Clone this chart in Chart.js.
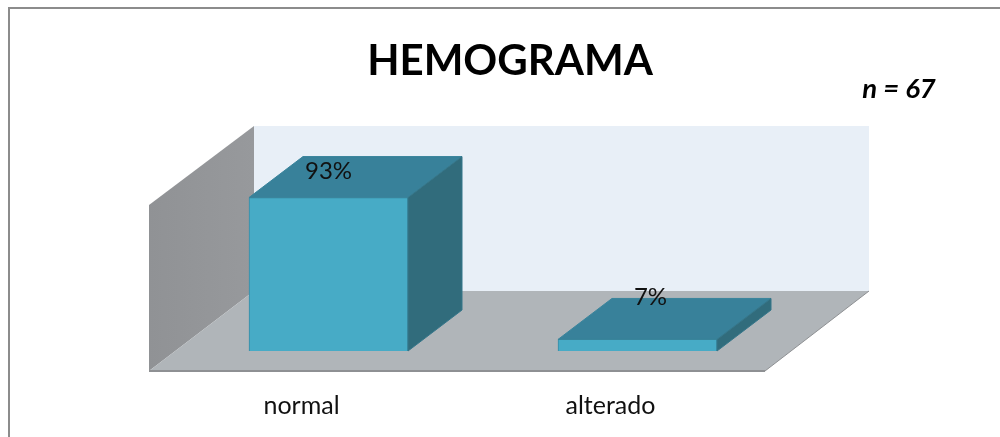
<!DOCTYPE html>
<html>
<head>
<meta charset="utf-8">
<title>Hemograma</title>
<script src="https://cdn.jsdelivr.net/npm/chart.js@4"></script>
<style>
  html, body { margin: 0; background: #fff; overflow: hidden; }
  canvas { display: block; }
</style>
</head>
<body>
<canvas id="chart" width="1000" height="437"></canvas>
<script>
const categories = ['normal', 'alterado'];
const values = [93, 7];
const chartTitle = 'HEMOGRAMA';
const sampleNote = 'n = 67';

const FONT = 'Lato, "Open Sans", sans-serif';

// nudges for the % labels, they sit by hand in the original
const labelNudge = [[0, -26], [13, -42]];

const polygon = (ctx, pts, fill, stroke) => {
  ctx.beginPath();
  pts.forEach((p, i) => (i ? ctx.lineTo(p[0], p[1]) : ctx.moveTo(p[0], p[1])));
  ctx.closePath();
  ctx.fillStyle = fill;
  ctx.fill();
  if (stroke) {
    ctx.strokeStyle = stroke;
    ctx.lineWidth = 1;
    ctx.stroke();
  }
};

const fakeBox = {
  id: 'fakeBox',
  afterLayout(chart) {
    // centre of the title is right of the plot centre
    chart.titleBlock.left += 27;
    chart.titleBlock.right += 27;
  },
  beforeDraw(chart) {
    const ctx = chart.ctx;
    ctx.save();
    ctx.strokeStyle = '#8c8c8c';
    ctx.lineWidth = 2;
    ctx.beginPath();
    ctx.moveTo(9, 437);
    ctx.lineTo(9, 8);
    ctx.lineTo(1000, 8);
    ctx.stroke();
    ctx.restore();
  },
  beforeDatasetsDraw(chart) {
    const ctx = chart.ctx;
    const {left, right} = chart.chartArea;
    const bottom = chart.scales.y.getPixelForValue(0);
    const top = chart.scales.y.getPixelForValue(100);
    const fl = left - 25, fr = right - 27, fy = bottom + 20;
    const bl = left + 80, br = right + 77, by = bottom - 60, bt = top - 60;
    ctx.save();
    polygon(ctx, [[bl, bt], [br, bt], [br, by], [bl, by]], '#e8eff7');
    const wall = ctx.createLinearGradient(fl, 0, bl, 0);
    wall.addColorStop(0, '#909295');
    wall.addColorStop(1, '#97999c');
    polygon(ctx, [[fl, bt + 79], [bl, bt], [bl, by], [fl, fy]], wall);
    polygon(ctx, [[fl, fy], [bl, by], [br, by], [fr, fy]], '#b0b5b9');
    ctx.strokeStyle = '#8e9093';
    ctx.lineWidth = 1;
    ctx.beginPath();
    ctx.moveTo(br, by);
    ctx.lineTo(fr, fy);
    ctx.stroke();
    ctx.lineWidth = 2;
    ctx.beginPath();
    ctx.moveTo(fl, fy);
    ctx.lineTo(fr, fy);
    ctx.stroke();
    ctx.restore();
  },
  afterDatasetsDraw(chart) {
    const ctx = chart.ctx;
    const dx = 54, dy = -41;
    ctx.save();
    chart.getDatasetMeta(0).data.forEach((bar, i) => {
      const l = bar.x - bar.width / 2, r = bar.x + bar.width / 2;
      polygon(ctx, [[l, bar.y], [l + dx, bar.y + dy], [r + dx, bar.y + dy], [r, bar.y]], '#38819a', '#39849c');
      polygon(ctx, [[r, bar.y], [r + dx, bar.y + dy], [r + dx, bar.base + dy], [r, bar.base]], '#316c7c', '#35768a');
    });
    ctx.fillStyle = '#111';
    ctx.textAlign = 'center';
    ctx.textBaseline = 'middle';
    ctx.font = '24px ' + FONT;
    chart.getDatasetMeta(0).data.forEach((bar, i) => {
      ctx.fillText(values[i] + '%', bar.x + labelNudge[i][0], bar.y + labelNudge[i][1]);
    });
    ctx.fillStyle = '#000';
    ctx.font = 'italic bold 27.5px ' + FONT;
    ctx.fillText(sampleNote, 899, 89);
    ctx.restore();
  }
};

new Chart(document.getElementById('chart').getContext('2d'), {
  type: 'bar',
  data: {
    labels: categories,
    datasets: [{
      data: values,
      backgroundColor: '#47abc6',
      borderColor: '#3a8ba4',
      borderWidth: 1,
      barThickness: 159
    }]
  },
  options: {
    responsive: false,
    animation: false,
    layout: {padding: {left: 174, right: 208, top: 0, bottom: 0}},
    plugins: {
      legend: {display: false},
      tooltip: {enabled: false},
      title: {
        display: true,
        text: chartTitle,
        color: '#000',
        font: {family: FONT, size: 42, weight: 'bold', lineHeight: 1.2},
        padding: {top: 36, bottom: 99.6}
      }
    },
    scales: {
      y: {display: false, min: 0, max: 100},
      x: {
        // fixed height so the plot bottom stays where value 0 belongs
        afterFit: (scale) => { scale.height = 86; },
        grid: {display: false, drawTicks: false},
        border: {display: false},
        ticks: {
          padding: 40,
          labelOffset: -27,
          color: '#111',
          maxRotation: 0,
          font: {family: FONT, size: 25, lineHeight: 1.2}
        }
      }
    }
  },
  plugins: [fakeBox]
});
</script>
</body>
</html>
